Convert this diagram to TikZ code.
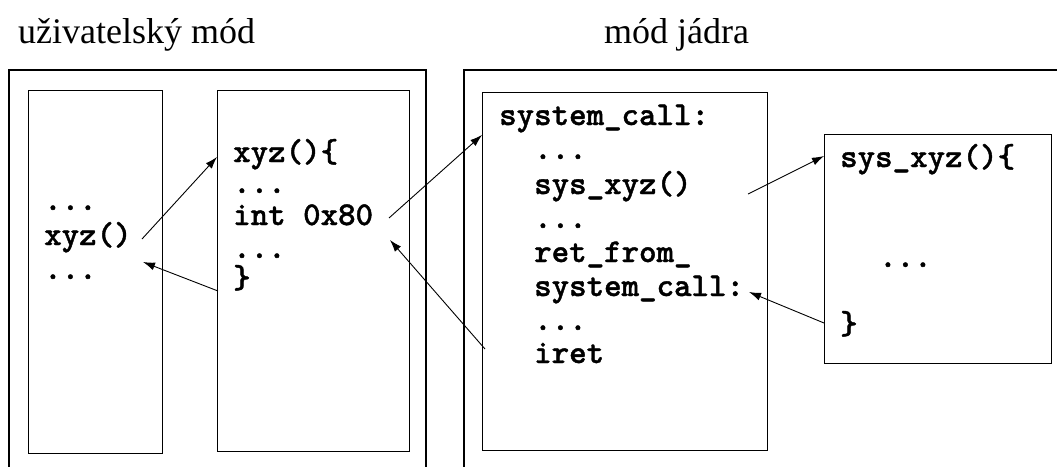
\documentclass[tikz,border=0pt]{standalone}
\usepackage{fontspec}
\setmainfont{Liberation Serif}
\newfontfamily\codefont{lmmonolt10-bold.otf}[FakeBold=1.2]
\usetikzlibrary{arrows.meta}
\begin{document}
\begin{tikzpicture}[x=1pt,y=-1pt,
  box/.style={draw,line width=1.4pt,anchor=north west,inner sep=0pt},
  code/.style={anchor=base west,inner sep=0pt,font=\codefont\bfseries\fontsize{33.3}{34}\selectfont},
  title/.style={anchor=base west,inner sep=0pt,font=\fontsize{36}{40}\selectfont},
  arr/.style={-{Latex[length=12pt,width=8pt]},line width=0.9pt}]
\useasboundingbox (0,0) rectangle (1057,466);
\begin{scope}
\clip (0,0) rectangle (1057,466);
\draw[line width=1.4pt] (9,480) -- (9,70) -- (426,70) -- (426,480);
\draw[line width=1.4pt] (464,480) -- (464,70) -- (1070,70);
\end{scope}
% titles
\node[title] (t1) at (18,43) {uživatelský mód};
\node[title] (t2) at (604,43) {mód jádra};
% boxes
\node[box,minimum width=134pt,minimum height=363pt] (b1) at (28,90) {};
\node[box,minimum width=192pt,minimum height=361pt] (b2) at (217,90) {};
\node[box,minimum width=285pt,minimum height=358pt] (b3) at (482,92) {};
\node[box,minimum width=227pt,minimum height=229pt] (b4) at (824,134) {};
% box 1 text
\node[code] (a1) at (44,210) {...};
\node[code] (a2) at (44,245) {xyz()};
\node[code] (a3) at (44,279) {...};
% box 2 text
\node[code] (c1) at (233,162) {xyz()\{};
\node[code] (c2) at (233,193) {...};
\node[code] (c3) at (233,225) {int 0x80};
\node[code] (c4) at (233,258) {...};
\node[code] (c5) at (233,288) {\}};
% box 3 text
\node[code] (d1) at (499,125) {system\_call:};
\node[code] (d2) at (534,159) {...};
\node[code] (d3) at (534,194) {sys\_xyz()};
\node[code] (d4) at (534,228) {...};
\node[code] (d5) at (534,262) {ret\_from\_};
\node[code] (d6) at (534,296) {system\_call:};
\node[code] (d7) at (534,330) {...};
\node[code] (d8) at (534,363) {iret};
% box 4 text
\node[code] (e1) at (840,167) {sys\_xyz()\{};
\node[code] (e2) at (879,267) {...};
\node[code] (e3) at (840,334) {\}};
% arrow end points
\coordinate (p1) at (142,239);
\coordinate (q1) at (217,157);
\coordinate (p2) at (218,291);
\coordinate (q2) at (143,262);
\coordinate (p3) at (389,218);
\coordinate (q3) at (482,135);
\coordinate (p4) at (485,349);
\coordinate (q4) at (390,240);
\coordinate (p5) at (748,194);
\coordinate (q5) at (824,156);
\coordinate (p6) at (824,323);
\coordinate (q6) at (749,292);
\draw[arr] (p1) -- (q1);
\draw[arr] (p2) -- (q2);
\draw[arr] (p3) -- (q3);
\draw[arr] (p4) -- (q4);
\draw[arr] (p5) -- (q5);
\draw[arr] (p6) -- (q6);
\end{tikzpicture}
\end{document}
